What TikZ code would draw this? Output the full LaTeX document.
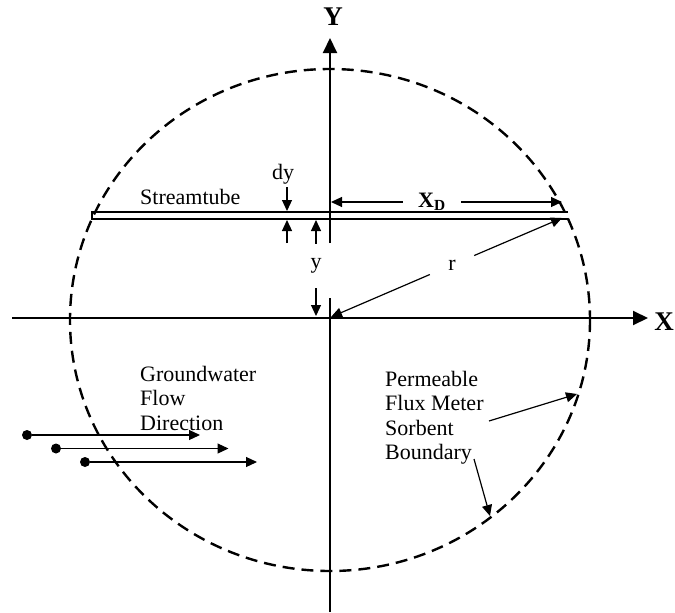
\documentclass[tikz,border=0pt]{standalone}
\usepackage{fontspec}
\setmainfont{Liberation Serif}
\usetikzlibrary{arrows.meta}

\begin{document}
\begin{tikzpicture}[
    x=1pt, y=-1pt,
    font=\fontsize{22}{24.5}\selectfont,
    axline/.style={line width=2pt},
    axis/.style={axline, -{Triangle[length=15pt, width=14pt]}},
    tube/.style={line width=1.8pt},
    bnd/.style={line width=2.4pt, dash pattern=on 12pt off 7pt},
    arr/.style={line width=1.2pt, -{Triangle[length=11pt, width=10pt]}},
    dot/.style={circle, fill=black, inner sep=0pt, minimum size=10pt},
    txt/.style={inner sep=0pt, align=left},
    axlbl/.style={font=\fontsize{27}{30}\selectfont\bfseries}
]
\useasboundingbox (0,0) rectangle (675,613);

\coordinate (o)   at (331,317);
\coordinate (xl)  at (12,318);
\coordinate (xr)  at (648,318);
\coordinate (yb)  at (330,612);
\coordinate (yg2) at (330,298);
\coordinate (yg1) at (330,243);
\coordinate (yt)  at (330,38);
\draw[axis] (xl) -- (xr);
\draw[axline] (yb) -- (yg2);
\draw[axis] (yg1) -- (yt);
\node[axlbl] (xlab) at (664,322) {X};
\node[axlbl] (ylab) at (333,17) {Y};

\draw[bnd] (330,320) ellipse [x radius=260, y radius=251];

\coordinate (tl1) at (92,212);
\coordinate (tl2) at (92,219);
\coordinate (tr1) at (568,212);
\coordinate (tr2) at (568,219);
\draw[tube] (tr1) -- (tl1) -- (tl2) -- (tr2);
\node[txt, anchor=base west] (stube) at (140,204) {Streamtube};

\node[txt] (dy) at (283,174) {dy};
\coordinate (dys) at (287,187);
\coordinate (dyt) at (287,211);
\coordinate (dyu) at (287,243);
\coordinate (dyb) at (287,220);
\draw[arr] (dys) -- (dyt);
\draw[arr] (dyu) -- (dyb);

\node[minimum height=44pt, inner sep=0pt] (ylbl) at (316,266) {y};
\coordinate (yup) at (316,220);
\coordinate (ydn) at (316,316);
\draw[arr] (ylbl) -- (yup);
\draw[arr] (ylbl) -- (ydn);

\node[font=\fontsize{22}{24}\selectfont\bfseries, minimum width=58pt,
      inner sep=0pt] (xd) at (432,202) {X\textsubscript{D}};
\coordinate (xdl) at (331,202);
\coordinate (xdr) at (562,202);
\draw[arr] (xd) -- (xdl);
\draw[arr] (xd) -- (xdr);

\node[minimum width=44pt, minimum height=24pt, inner sep=0pt] (rl) at (452,265) {r};
\coordinate (rend) at (562,218);
\draw[arr] (rl) -- (o);
\draw[arr] (rl) -- (rend);

\node[txt, anchor=north west] (gw) at (140,366) {Groundwater\\Flow\\Direction};
\foreach \i in {0,1,2} {
  \node[dot] (src\i) at ({27+29*\i},{435+13.5*\i}) {};
  \coordinate (tip\i) at ({200+28.5*\i},{435+13.5*\i});
  \draw[arr] (src\i) -- (tip\i);
}

\node[txt, anchor=north west] (pfm) at (385,371) {Permeable\\Flux Meter\\Sorbent\\Boundary};
\coordinate (p1) at (489,421);
\coordinate (b1) at (577,394);
\coordinate (p2) at (474,459);
\coordinate (b2) at (490,516);
\draw[arr] (p1) -- (b1);
\draw[arr] (p2) -- (b2);
\end{tikzpicture}
\end{document}
